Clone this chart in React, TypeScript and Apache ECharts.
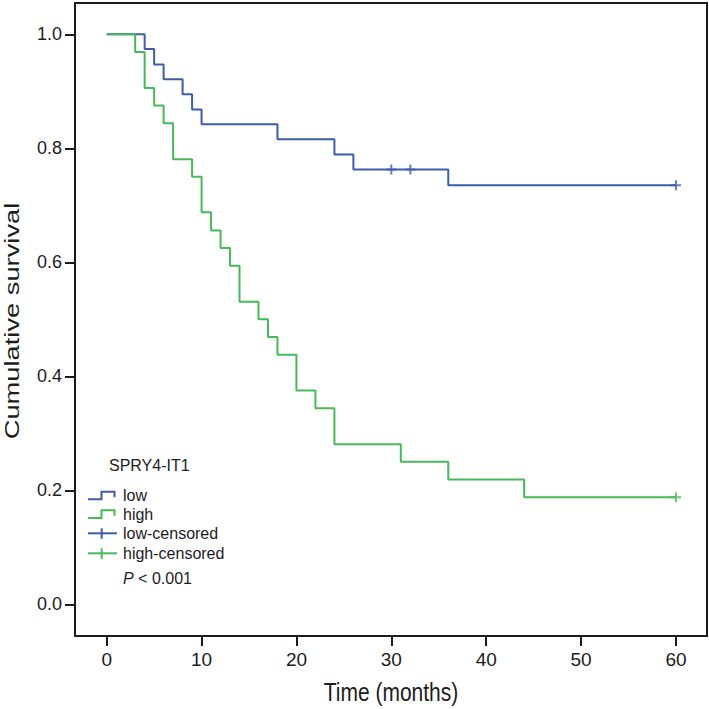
import React, { useEffect, useRef } from "react";
import * as echarts from "echarts";

const lowTimes = [0, 4, 5, 6, 8, 9, 10, 18, 24, 26, 36, 60];
const lowSurv = [1.0, 0.974, 0.947, 0.921, 0.895, 0.868, 0.842, 0.816, 0.789, 0.763, 0.735, 0.735];
const highTimes = [0, 3, 4, 5, 6, 7, 9, 10, 11, 12, 13, 14, 16, 17, 18, 20, 22, 24, 31, 36, 44, 60];
const highSurv = [1.0, 0.969, 0.906, 0.875, 0.844, 0.781, 0.75, 0.688, 0.656, 0.625, 0.594, 0.531, 0.5, 0.469, 0.438, 0.375, 0.344, 0.281, 0.25, 0.219, 0.188, 0.188];
const lowCensorTimes = [30, 32, 60];
const lowCensorSurv = [0.763, 0.763, 0.735];
const highCensorTimes = [60];
const highCensorSurv = [0.188];
const xTicks = [0, 10, 20, 30, 40, 50, 60];
const yTicks = [0, 0.2, 0.4, 0.6, 0.8, 1.0];
const legendLabels = ["low", "high", "low-censored", "high-censored"];
const legendTitle = "SPRY4-IT1";
const pText = "< 0.001";

const BLUE = "#3f5caa";
const GREEN = "#48b95a";
const INK = "#1c1c1c";
const FONT = "'Liberation Sans', Arial, sans-serif";
const PLUS = "path://M4,0 H6 V4 H10 V6 H6 V10 H4 V6 H0 V4 H4 Z";

const zip = (a: number[], b: number[]) => a.map((v, i) => [v, b[i]]);

export default function App() {
  const ref = useRef<HTMLDivElement>(null);
  useEffect(() => {
    document.body.style.margin = "0";
    if (!ref.current) return;
    const chart = echarts.init(ref.current, null, { renderer: "svg" });
    const rowsY = [495.7, 514.3, 533.3, 553.3];
    const legendColors = [BLUE, GREEN, BLUE, GREEN];
    const legendGraphics: any[] = [];
    legendLabels.forEach((lab, i) => {
      const y = rowsY[i];
      if (i < 2) {
        legendGraphics.push({
          type: "polyline",
          shape: { points: [[88, y + 3.6], [101.5, y + 3.6], [101.5, y - 4], [114.5, y - 4], [114.5, y + 1.5]] },
          style: { stroke: legendColors[i], lineWidth: 2, fill: null },
        });
      } else {
        legendGraphics.push({
          type: "line",
          shape: { x1: 88, y1: y, x2: 117, y2: y },
          style: { stroke: legendColors[i], lineWidth: 2 },
        });
        legendGraphics.push({
          type: "line",
          shape: { x1: 101.7, y1: y - 5, x2: 101.7, y2: y + 5.5 },
          style: { stroke: legendColors[i], lineWidth: 2 },
        });
      }
      legendGraphics.push({
        type: "text",
        x: 123,
        y,
        style: { text: lab, font: `16px ${FONT}`, fill: INK, textAlign: "left", textVerticalAlign: "middle" },
      });
    });

    chart.setOption({
      animation: false,
      backgroundColor: "#ffffff",
      grid: { left: 75, right: 2, top: 3, bottom: 73, show: true, borderColor: INK, borderWidth: 2, containLabel: false },
      xAxis: {
        type: "value",
        min: -3.34,
        max: 63.27,
        splitLine: { show: false },
        axisLine: { show: true, onZero: false, lineStyle: { color: INK, width: 2 } },
        axisTick: { show: true, length: 10, inside: false, customValues: xTicks, lineStyle: { color: INK, width: 2 } },
        axisLabel: { customValues: xTicks, margin: 14, color: INK, fontSize: 19, fontFamily: FONT },
      },
      yAxis: {
        type: "value",
        min: -0.0556,
        max: 1.0549,
        splitLine: { show: false },
        axisLine: { show: true, onZero: false, lineStyle: { color: INK, width: 2 } },
        axisTick: { show: true, length: 10, inside: false, customValues: yTicks, lineStyle: { color: INK, width: 2 } },
        axisLabel: {
          customValues: yTicks,
          margin: 13,
          color: INK,
          fontSize: 18,
          fontFamily: FONT,
          formatter: (v: number) => v.toFixed(1),
        },
      },
      series: [
        {
          name: "low",
          type: "line",
          step: "end",
          showSymbol: false,
          data: zip(lowTimes, lowSurv),
          lineStyle: { color: BLUE, width: 2 },
          itemStyle: { color: BLUE },
        },
        {
          name: "high",
          type: "line",
          step: "end",
          showSymbol: false,
          data: zip(highTimes, highSurv),
          lineStyle: { color: GREEN, width: 2 },
          itemStyle: { color: GREEN },
        },
        {
          name: "low-censored",
          type: "scatter",
          symbol: PLUS,
          symbolSize: [10, 10],
          data: zip(lowCensorTimes, lowCensorSurv),
          itemStyle: { color: BLUE },
        },
        {
          name: "high-censored",
          type: "scatter",
          symbol: PLUS,
          symbolSize: [10, 10],
          data: zip(highCensorTimes, highCensorSurv),
          itemStyle: { color: GREEN },
        },
      ],
      graphic: [
        {
          type: "text",
          x: 12,
          y: 321,
          rotation: Math.PI / 2,
          scaleX: 1.3,
          scaleY: 1,
          style: { text: "Cumulative survival", font: `21px ${FONT}`, fill: INK, textAlign: "center", textVerticalAlign: "middle" },
        },
        {
          type: "text",
          x: 391,
          y: 692,
          scaleX: 1,
          scaleY: 1.25,
          style: { text: "Time (months)", font: `21px ${FONT}`, fill: INK, textAlign: "center", textVerticalAlign: "middle" },
        },
        {
          type: "text",
          x: 109,
          y: 465,
          style: { text: legendTitle, font: `16px ${FONT}`, fill: INK, textAlign: "left", textVerticalAlign: "middle" },
        },
        ...legendGraphics,
        {
          type: "text",
          x: 123,
          y: 578.3,
          style: {
            text: `{i|P} ${pText}`,
            font: `16px ${FONT}`,
            fill: INK,
            textAlign: "left",
            textVerticalAlign: "middle",
            rich: { i: { fontStyle: "italic", fontSize: 16, fontFamily: FONT, fill: INK } },
          },
        },
      ],
    });
    return () => chart.dispose();
  }, []);
  return <div ref={ref} style={{ width: 709, height: 709 }} />;
}
